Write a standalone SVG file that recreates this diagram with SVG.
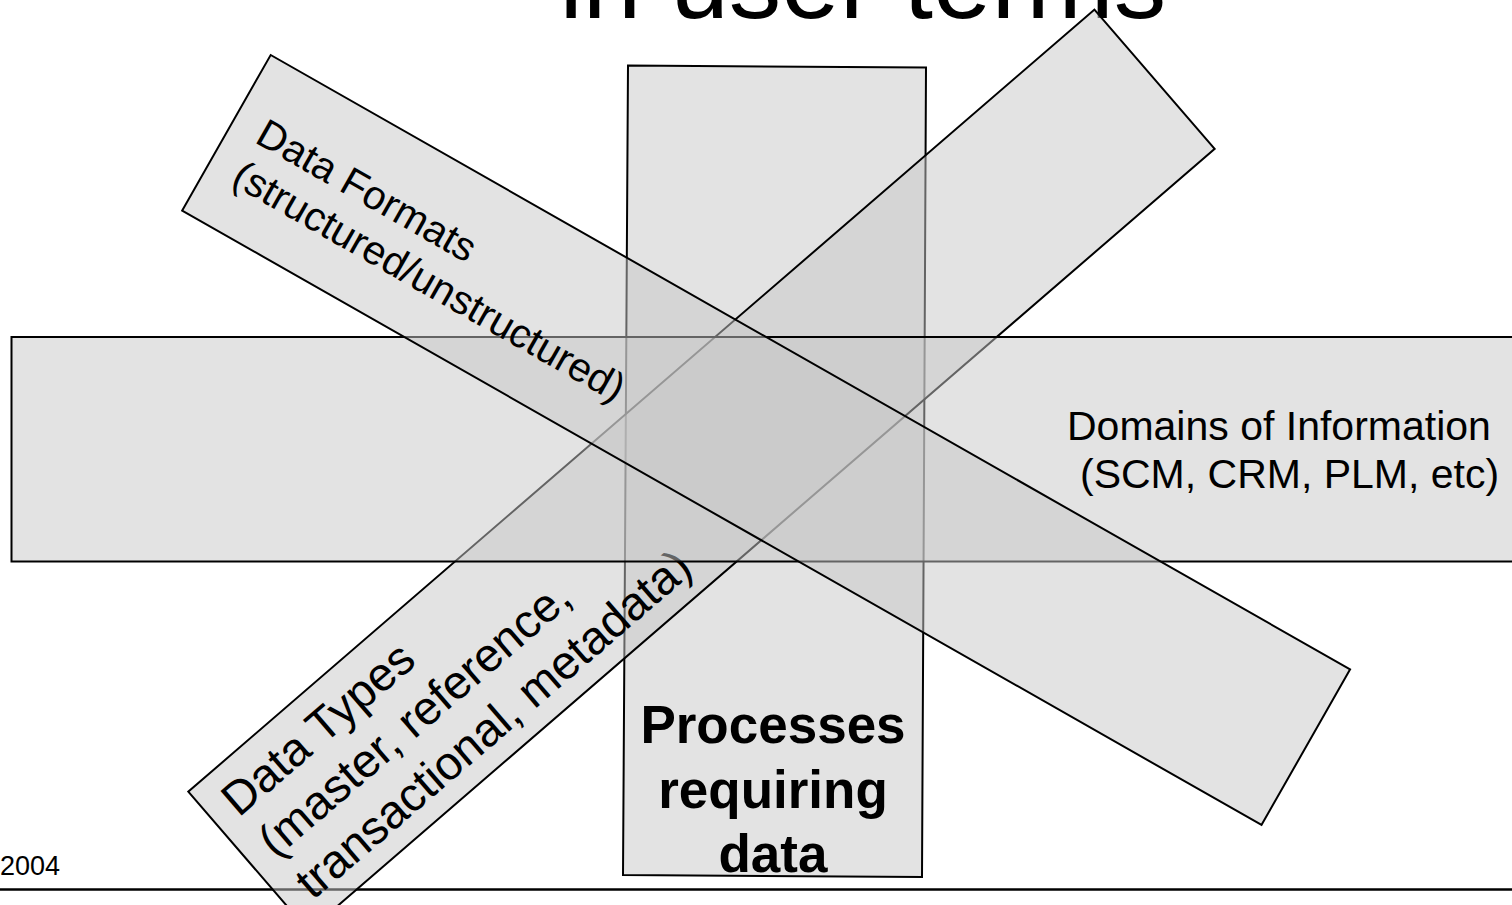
<svg xmlns="http://www.w3.org/2000/svg" width="1512" height="905" viewBox="0 0 1512 905">
<style>
.shape{fill:#c7c7c7;fill-opacity:0.5;stroke:#000;stroke-width:2;stroke-linejoin:miter}
.lbl{font-family:"Liberation Sans",Arial,sans-serif;fill:#000}
.bold{font-weight:bold}
</style>
<rect width="1512" height="905" fill="#fff"/>
<g id="title">
<text class="lbl" x="559.5" y="17.5" font-size="105">in user terms</text>
</g>
<g id="footer">
<text class="lbl" x="0" y="875" font-size="27">2004</text>
<line x1="0" y1="889.5" x2="1512" y2="889.5" stroke="#000" stroke-width="2.5"/>
</g>
<g id="processes">
<polygon class="shape" points="628,65.5 926,67.5 922,877 623,875"/>
<text class="lbl bold" text-anchor="middle" font-size="53"><tspan x="773" y="743">Processes</tspan><tspan x="773" y="808">requiring</tspan><tspan x="773" y="872">data</tspan></text>
</g>
<g id="data-types" transform="translate(188.3,791.7) rotate(-40.8)">
<rect class="shape" x="0" y="0" width="1197" height="184"/>
<text class="lbl" font-size="47"><tspan x="21" y="53">Data Types</tspan><tspan x="22" y="108">(master, reference,</tspan><tspan x="23" y="164">transactional, metadata)</tspan></text>
</g>
<g id="domains">
<rect class="shape" x="11.5" y="337" width="1512" height="224.5"/>
<text class="lbl" font-size="41"><tspan x="1067" y="440">Domains of Information</tspan><tspan x="1080" y="488">(SCM, CRM, PLM, etc)</tspan></text>
</g>
<g id="data-formats" transform="translate(270.7,55) rotate(29.65)">
<rect class="shape" x="0" y="0" width="1242" height="179"/>
<text class="lbl" font-size="40.5"><tspan x="28" y="84">Data Formats</tspan><tspan x="28" y="132">(structured/unstructured)</tspan></text>
</g>
<g id="connectors"/>
</svg>
